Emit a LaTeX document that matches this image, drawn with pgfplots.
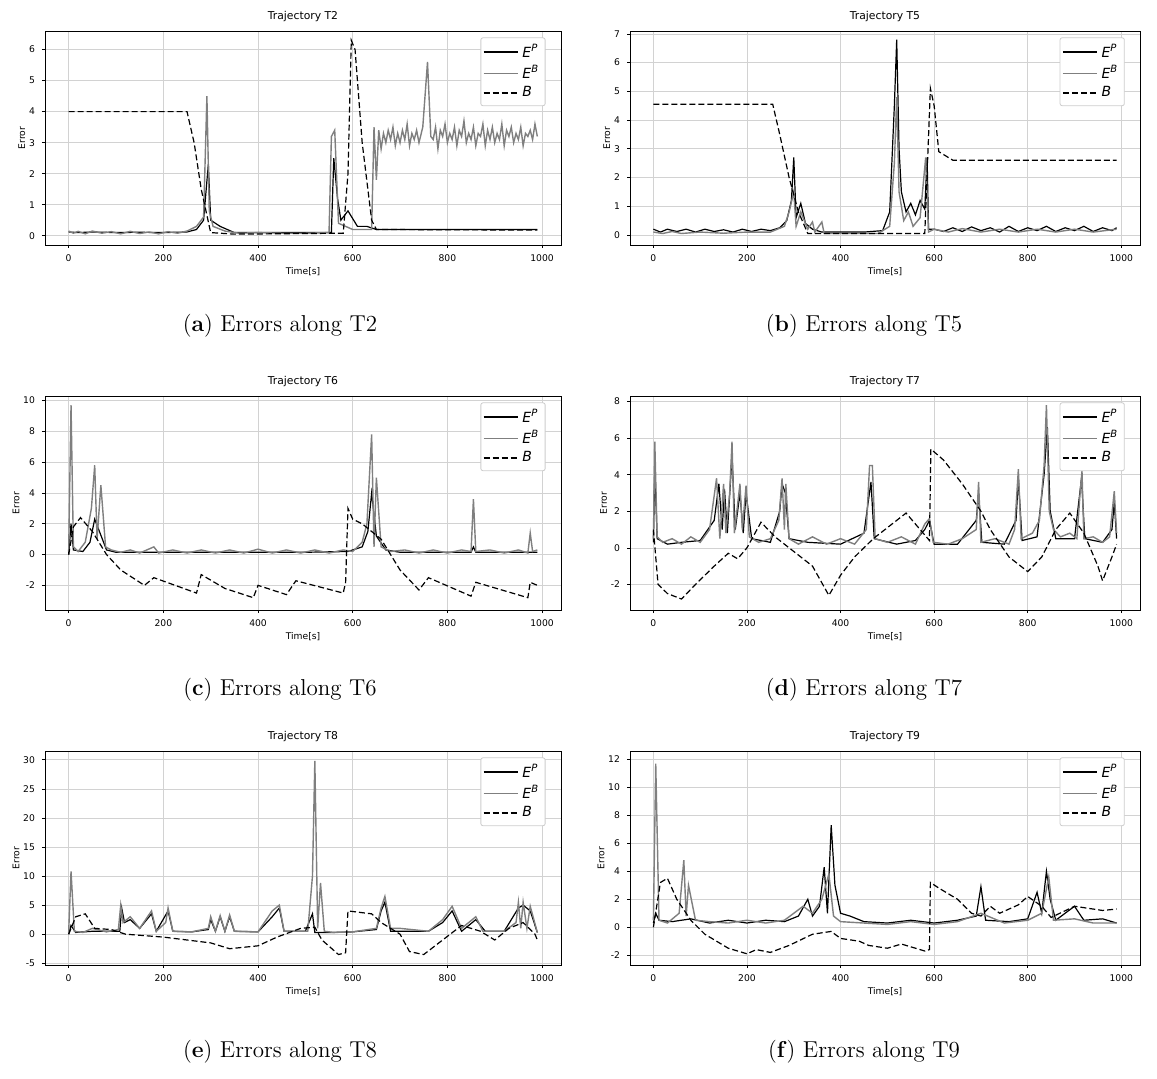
\documentclass[border=0pt]{standalone}
\usepackage{pgfplots}
\pgfplotsset{compat=1.18}
\usepackage{fontspec}
\newfontfamily\dv{DejaVu Sans}
\definecolor{eb}{HTML}{7F7F7F}
\newcommand{\lgd}[2]{{\dv\itshape #1}\textsuperscript{\dv\itshape #2}}
\pgfplotsset{panel/.style={scale only axis, width=258pt, height=107pt, anchor=south west,
 xmin=-50,xmax=1040, xtick={0,200,400,600,800,1000}, xtick pos=bottom, ytick pos=left,
 /pgf/number format/1000 sep={},
 grid=major, grid style={gray!35,line width=0.3pt},
 tick style={black,line width=0.3pt}, tick align=outside, major tick length=1.5pt,
 axis line style={line width=0.4pt},
 ticklabel style={font=\fontsize{4.6}{5}\dv}, /pgf/number format/assume math mode=true,
 xlabel={Time[s]}, ylabel={Error}, label style={font=\fontsize{4.6}{5}\dv},
 xlabel style={yshift=4pt}, ylabel style={yshift=-5pt},
 title style={font=\fontsize{5.4}{6}\dv, yshift=-5pt},
 legend pos=north east, legend cell align=left,
 legend style={font=\fontsize{7}{8}\dv, draw=gray!40, rounded corners=1pt, inner sep=1pt, row sep=-1.5pt},
 ep/.style={black,line width=0.6pt},
 ebs/.style={eb,line width=0.7pt},
 bs/.style={black,dash pattern=on 3pt off 1.5pt,line width=0.6pt}}}
\begin{document}
\begin{tikzpicture}
\path[use as bounding box] (0,0) rectangle (578.5pt,539pt);
% T2
\begin{axis}[panel, at={(22.5pt,416.5pt)}, title={Trajectory T2}, ymin=-0.3,ymax=6.6, ytick={0,...,6}]
\addplot[ep] coordinates {(0,0.12)(20,0.1)(50,0.12)(100,0.1)(150,0.11)(200,0.1)(250,0.12)(270,0.2)(285,0.5)(295,2.3)(300,0.5)(320,0.3)(350,0.1)(400,0.1)(500,0.1)(555,0.1)(560,2.5)(568,1.2)(575,0.5)(590,0.8)(610,0.3)(630,0.3)(650,0.2)(680,0.2)(700,0.2)(750,0.2)(990,0.2)};
\addplot[ebs] coordinates {(0,0.15)(10,0.08)(20,0.14)(35,0.06)(50,0.15)(70,0.08)(90,0.13)(110,0.06)(130,0.14)(150,0.07)(170,0.12)(190,0.06)(210,0.13)(230,0.08)(250,0.15)(270,0.3)(285,0.6)(292,4.5)(297,0.8)(305,0.3)(330,0.15)(360,0.08)(400,0.1)(450,0.08)(500,0.08)(550,0.1)(555,3.2)(562,3.4)(570,0.4)(585,0.3)(600,0.2)(640,0.2)(645,3.5)(650,1.8)(655,3.4)(660,2.8)(665,3.3)(670,3.0)(675,3.4)(680,3.1)(685,3.5)(690,2.9)(695,3.3)(700,3.0)(705,3.4)(710,3.1)(715,3.6)(720,2.9)(725,3.3)(730,3.1)(735,3.4)(740,3.0)(748,3.5)(758,5.6)(765,3.2)(770,3.1)(775,3.5)(780,2.8)(785,3.4)(790,3.2)(795,3.6)(800,3.0)(805,3.3)(810,3.1)(815,3.5)(820,2.9)(825,3.4)(830,3.2)(835,3.7)(840,3.0)(845,3.3)(850,3.1)(855,3.5)(860,2.9)(865,3.3)(870,3.2)(875,3.6)(880,2.9)(885,3.4)(890,3.1)(895,3.5)(900,3.0)(905,3.3)(910,3.1)(915,3.6)(920,2.9)(925,3.4)(930,3.2)(935,3.5)(940,3.0)(945,3.3)(950,3.1)(955,3.5)(960,2.9)(965,3.3)(970,3.2)(975,3.4)(980,3.1)(985,3.6)(990,3.2)};
\addplot[bs] coordinates {(0,4)(250,4)(265,3)(280,1.5)(300,0.1)(350,0.05)(580,0.08)(590,2)(597,6.3)(605,6)(620,3)(640,0.5)(650,0.2)(990,0.18)};
\legend{\lgd{E}{P},\lgd{E}{B},\lgd{B}{}}
\end{axis}
% T5
\begin{axis}[panel, at={(315pt,416.5pt)}, width=255pt, title={Trajectory T5}, ymin=-0.35,ymax=7.1, ytick={0,...,7}]
\addplot[ep] coordinates {(0,0.2)(15,0.1)(30,0.2)(50,0.12)(70,0.2)(90,0.1)(110,0.2)(130,0.12)(150,0.18)(170,0.1)(190,0.2)(210,0.12)(230,0.2)(250,0.15)(270,0.25)(285,0.5)(295,1.2)(300,2.7)(305,0.6)(315,1.1)(325,0.4)(340,0.2)(360,0.1)(400,0.1)(450,0.1)(490,0.15)(505,0.8)(515,4.5)(520,6.8)(525,3)(530,1.5)(540,0.8)(550,1.1)(560,0.7)(570,1.2)(580,0.9)(585,2.7)(588,0.2)(600,0.2)(620,0.12)(640,0.25)(660,0.12)(680,0.28)(700,0.15)(720,0.25)(740,0.1)(760,0.3)(780,0.12)(800,0.25)(820,0.15)(840,0.3)(860,0.12)(880,0.25)(900,0.15)(920,0.3)(940,0.12)(960,0.25)(980,0.15)(990,0.25)};
\addplot[ebs] coordinates {(0,0.1)(20,0.05)(40,0.12)(60,0.05)(100,0.1)(150,0.06)(200,0.1)(250,0.1)(280,0.3)(290,0.8)(300,1.5)(305,0.3)(315,0.8)(330,0.2)(340,0.45)(345,0.1)(360,0.45)(365,0.05)(400,0.05)(480,0.05)(505,0.3)(515,2.5)(520,4.8)(525,1.5)(535,0.5)(545,0.8)(555,0.3)(570,0.6)(582,2.7)(588,0.1)(600,0.2)(630,0.1)(660,0.22)(700,0.1)(740,0.2)(780,0.1)(820,0.2)(860,0.1)(900,0.2)(940,0.1)(990,0.2)};
\addplot[bs] coordinates {(0,4.55)(255,4.55)(270,3.5)(290,2)(310,0.8)(330,0.05)(580,0.05)(592,5.1)(600,4.5)(610,2.9)(640,2.6)(990,2.6)};
\legend{\lgd{E}{P},\lgd{E}{B},\lgd{B}{}}
\end{axis}
% T6
\begin{axis}[panel, at={(22.5pt,234pt)}, title={Trajectory T6}, ymin=-3.6,ymax=10.3, ytick={-2,0,...,10}]
\addplot[ep] coordinates {(0,0)(5,2.0)(10,0.3)(30,0.2)(45,0.8)(55,2.3)(65,1.5)(80,0.3)(100,0.15)(200,0.15)(300,0.15)(400,0.15)(500,0.15)(590,0.2)(620,0.5)(632,1.5)(640,4.0)(650,1.2)(670,0.3)(700,0.15)(850,0.15)(855,0.5)(860,0.15)(990,0.15)};
\addplot[ebs] coordinates {(0,0.2)(5,9.7)(10,0.5)(20,0.2)(35,0.8)(48,3)(55,5.8)(60,1)(68,4.5)(78,0.5)(90,0.3)(110,0.15)(130,0.3)(150,0.1)(180,0.5)(190,0.1)(220,0.3)(250,0.1)(280,0.3)(310,0.1)(340,0.3)(370,0.1)(400,0.35)(430,0.1)(460,0.3)(490,0.1)(520,0.3)(550,0.1)(580,0.3)(600,0.2)(620,0.8)(630,2)(640,7.8)(645,0.5)(650,5.0)(660,0.5)(680,0.2)(710,0.3)(740,0.1)(770,0.3)(800,0.1)(830,0.3)(850,0.2)(855,3.6)(860,0.2)(890,0.3)(920,0.1)(950,0.3)(970,0.1)(975,1.4)(980,0.2)(990,0.3)};
\addplot[bs] coordinates {(0,0)(10,1.8)(25,2.4)(50,1.5)(80,0)(110,-1)(160,-2)(180,-1.5)(270,-2.5)(280,-1.3)(330,-2.2)(390,-2.8)(400,-2)(460,-2.6)(480,-1.7)(580,-2.5)(585,-1.8)(590,3)(600,2.3)(620,2)(660,1)(700,-1)(740,-2.3)(760,-1.5)(850,-2.7)(860,-1.8)(970,-2.8)(975,-1.8)(990,-2)};
\legend{\lgd{E}{P},\lgd{E}{B},\lgd{B}{}}
\end{axis}
% T7
\begin{axis}[panel, at={(315pt,234pt)}, width=255pt, title={Trajectory T7}, ymin=-3.4,ymax=8.3, ytick={-2,0,...,8}]
\addplot[ep] coordinates {(0,0.3)(3,4.5)(8,0.5)(30,0.2)(60,0.3)(100,0.4)(130,1.5)(140,3.5)(147,1)(152,3.2)(158,0.8)(168,5)(175,1)(185,3)(192,0.8)(198,3)(210,0.5)(250,0.3)(270,2)(275,3.5)(282,3)(290,0.5)(330,0.3)(400,0.2)(450,0.8)(465,3.6)(472,0.5)(520,0.2)(560,0.4)(580,1.0)(590,1.5)(600,0.2)(650,0.2)(690,1.5)(695,3)(702,0.3)(750,0.2)(775,1.5)(780,3.8)(788,0.4)(820,0.6)(835,4)(842,6.6)(848,2)(860,0.5)(900,0.5)(915,3.8)(922,0.5)(960,0.3)(980,1)(985,2.5)(990,0.5)};
\addplot[ebs] coordinates {(0,0.5)(3,5.8)(8,0.6)(20,0.3)(40,0.5)(60,0.2)(80,0.6)(100,0.3)(120,1)(135,3.8)(142,0.5)(150,3.5)(155,0.8)(163,3)(168,5.8)(173,0.8)(185,3.5)(190,1)(198,3.4)(205,0.6)(225,0.3)(250,0.5)(268,1.5)(275,3.8)(280,1)(283,3.5)(290,0.5)(310,0.2)(340,0.6)(370,0.2)(400,0.5)(430,0.2)(455,1)(462,4.5)(468,4.5)(474,0.5)(500,0.3)(530,0.6)(560,0.2)(580,1.3)(590,1.6)(598,0.3)(630,0.2)(660,0.5)(690,1)(695,3.6)(700,0.3)(730,0.5)(760,0.2)(772,1)(780,4.3)(786,0.5)(810,0.8)(825,1.5)(835,4.5)(840,7.8)(846,2)(855,1)(870,0.6)(890,0.8)(905,0.5)(912,3)(916,4.2)(920,0.5)(940,0.6)(960,0.3)(975,0.6)(985,3.1)(990,0.8)};
\addplot[bs] coordinates {(0,1)(10,-2)(30,-2.5)(60,-2.8)(90,-2)(130,-1)(160,-0.3)(180,-0.6)(200,0)(230,1.4)(260,0.6)(300,-0.2)(340,-1)(375,-2.6)(400,-1.5)(430,-0.5)(470,0.5)(520,1.5)(540,1.9)(570,1.0)(590,0.4)(593,5.4)(620,4.8)(660,3.5)(700,2)(720,1)(760,-0.5)(800,-1.3)(830,-0.5)(860,1)(890,1.9)(920,0.8)(950,-1)(960,-1.8)(980,-0.5)(990,0.2)};
\legend{\lgd{E}{P},\lgd{E}{B},\lgd{B}{}}
\end{axis}
% T8
\begin{axis}[panel, at={(22.5pt,56.5pt)}, title={Trajectory T8}, ymin=-5.3,ymax=31.5, ytick={-5,0,...,30}]
\addplot[ep] coordinates {(0,0)(5,1.5)(15,0.3)(50,0.5)(108,0.5)(112,4.5)(118,2)(130,2.5)(150,1)(175,3.5)(185,0.5)(210,4)(220,0.5)(260,0.4)(295,0.8)(300,2.5)(310,0.5)(320,3)(330,0.5)(340,3)(350,0.5)(400,0.4)(430,3)(445,4.5)(455,0.5)(500,0.5)(515,3.5)(520,0.3)(560,0.3)(600,0.4)(650,0.8)(660,4)(668,5.5)(680,0.5)(760,0.5)(790,2)(810,4)(830,0.5)(860,2.5)(880,0.5)(920,0.5)(950,4.5)(960,5)(975,4)(990,0.3)};
\addplot[ebs] coordinates {(0,0.3)(5,10.8)(12,0.5)(30,0.3)(50,1)(80,0.4)(105,0.8)(110,5)(115,2)(130,3)(150,1)(175,4)(185,0.5)(205,2)(210,4.5)(220,0.5)(260,0.4)(295,1)(300,3)(310,0.5)(320,3.2)(330,0.5)(340,3.3)(350,0.5)(400,0.4)(430,4)(445,5)(455,0.5)(505,0.5)(515,10)(520,29.8)(526,1)(532,8.8)(540,0.5)(560,0.3)(600,0.4)(650,1)(660,4.5)(668,6.5)(680,1)(700,1)(760,0.5)(790,2.5)(810,4.8)(830,1)(860,3)(875,0.5)(920,0.5)(945,2)(950,5.5)(955,1)(960,5.5)(968,1)(975,4.8)(990,0.3)};
\addplot[bs] coordinates {(0,0)(15,3)(35,3.5)(55,1)(90,0.8)(120,0)(200,-0.5)(300,-1.5)(340,-2.5)(400,-2)(440,-0.5)(490,1)(520,1.2)(535,-1)(570,-3.5)(585,-3.2)(590,4)(640,3.5)(660,2)(700,0)(720,-3)(750,-3.5)(790,-1)(830,1.5)(870,0.5)(900,-1)(930,1)(960,2)(985,0)(990,-1)};
\legend{\lgd{E}{P},\lgd{E}{B},\lgd{B}{}}
\end{axis}
% T9
\begin{axis}[panel, at={(315pt,56.5pt)}, width=255pt, title={Trajectory T9}, ymin=-2.7,ymax=12.6, ytick={-2,0,...,12}]
\addplot[ep] coordinates {(0,0.3)(5,1)(12,0.5)(40,0.4)(80,0.6)(120,0.3)(160,0.5)(200,0.3)(240,0.5)(280,0.4)(310,0.8)(330,2)(340,0.8)(355,1.5)(365,4.3)(372,1)(380,7.3)(388,3)(400,1)(420,0.8)(450,0.4)(500,0.3)(550,0.5)(600,0.3)(650,0.5)(690,0.8)(700,2.9)(710,0.5)(760,0.4)(800,0.6)(820,2.5)(830,1)(840,4)(848,2)(860,0.5)(900,1.5)(920,0.5)(960,0.6)(990,0.3)};
\addplot[ebs] coordinates {(0,0.5)(5,11.7)(12,0.5)(30,0.3)(55,1)(65,4.8)(70,0.8)(75,3)(90,0.5)(120,0.4)(160,0.3)(200,0.5)(240,0.3)(280,0.5)(320,1.5)(340,1)(360,2)(375,3.8)(385,0.8)(400,0.4)(450,0.3)(500,0.2)(550,0.4)(600,0.2)(650,0.4)(700,1)(750,0.3)(800,0.5)(830,1)(845,3.6)(855,0.5)(900,0.6)(940,0.3)(990,0.3)};
\addplot[bs] coordinates {(0,0)(15,3.2)(30,3.5)(50,2)(80,0.5)(110,-0.5)(160,-1.5)(200,-1.9)(220,-1.6)(250,-1.8)(290,-1.3)(340,-0.5)(380,-0.3)(400,-0.8)(440,-1)(460,-1.3)(500,-1.5)(530,-1.2)(580,-1.7)(590,-1.6)(592,3.2)(610,2.8)(650,2)(680,1)(700,0.8)(720,1.5)(740,1)(780,1.6)(800,2.2)(830,1.5)(850,0.7)(900,1.5)(960,1.2)(990,1.3)};
\legend{\lgd{E}{P},\lgd{E}{B},\lgd{B}{}}
\end{axis}
\tikzset{capt/.style={font=\fontsize{11.5}{13}\selectfont}}
\node[capt] at (140pt,376pt) {(\textbf{a}) Errors along T2};
\node[capt] at (432pt,376pt) {(\textbf{b}) Errors along T5};
\node[capt] at (140pt,194pt) {(\textbf{c}) Errors along T6};
\node[capt] at (432pt,194pt) {(\textbf{d}) Errors along T7};
\node[capt] at (140pt,13pt) {(\textbf{e}) Errors along T8};
\node[capt] at (432pt,13pt) {(\textbf{f}) Errors along T9};
\end{tikzpicture}
\end{document}
